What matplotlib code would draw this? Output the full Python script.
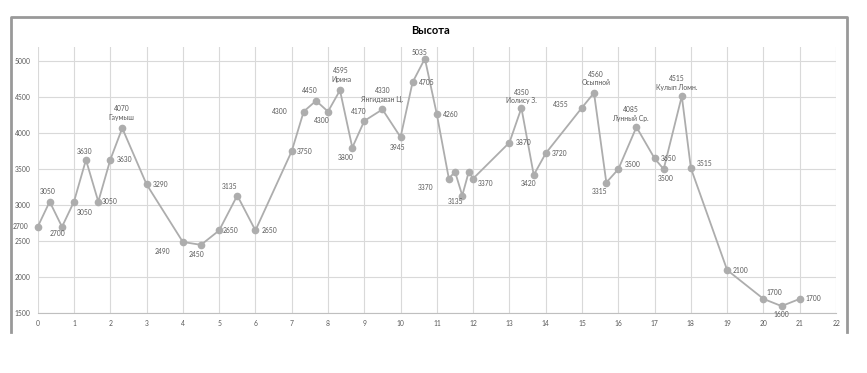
import matplotlib.pyplot as plt
from matplotlib.lines import Line2D

# Data
distance = [0, 0.33, 0.67, 1, 1.33, 1.67, 2, 2.33, 3, 4, 4.5, 5, 5.5, 6, 7,
            7.33, 7.67, 8, 8.33, 8.67, 9, 9.5, 10, 10.33, 10.67, 11, 11.33,
            11.5, 11.7, 11.88, 12, 13, 13.33, 13.67, 14, 15, 15.33, 15.67, 16,
            16.5, 17, 17.25, 17.75, 18, 19, 20, 20.5, 21]
height = [2700, 3050, 2700, 3050, 3630, 3050, 3630, 4070, 3290, 2490, 2450,
          2650, 3135, 2650, 3750, 4300, 4450, 4300, 4595, 3800, 4170, 4330,
          3945, 4705, 5035, 4260, 3370, 3465, 3135, 3465, 3370, 3870, 4350,
          3420, 3720, 4355, 4560, 3315, 3500, 4085, 3650, 3500, 4515, 3515,
          2100, 1700, 1600, 1700]
names = {7: 'Гаумыш', 18: 'Ирина', 21: 'Янгидаван Ц.', 32: 'Иолису З.',
         36: 'Осыпной', 39: 'Лунный Ср.', 42: 'Кулып Ломн.'}
unlabeled = {27, 29}

# label offsets in pixels (dx, dy) relative to the point
label_offsets = [(-17, 0), (-1.5, 10), (-5, -7), (11, -11), (-1, 8.5), (11, 0),
                 (14, 0), (-0.5, 15), (14, 0), (-20, -10), (-4, -10), (11, 0),
                 (-8, 9), (14, 0), (13, 0), (-24, 0), (-6, 10), (-6, -9),
                 (1, 15.5), (-7, -9.5), (-6, 9), (0, 14.5), (-3, -10), (14, 0),
                 (-5, 6), (14, 0), (-23, -9), (0, 0), (-6.5, -6), (0, 0),
                 (12, -5), (14, 0), (0, 11.5), (-5.5, -9), (14, 0), (-21, 3),
                 (2, 14.5), (-6.5, -9), (14, 5), (-6, 13.2), (14, 0), (2, -9),
                 (-5, 13.3), (14, 5), (13, 0), (11, 6), (0, -8), (13.5, 0)]

plt.rcParams['font.family'] = ['Lato', 'DejaVu Sans']

fig = plt.figure(figsize=(8.67, 3.73), dpi=100)
ax = fig.add_axes([0.04348, 0.16005, 0.9208, 0.7147])

line_color = '#ADADAD'
text_color = '#595959'

ax.plot(distance, height, color=line_color, linewidth=1.3, marker='o',
        markersize=4.5, markerfacecolor=line_color, markeredgecolor=line_color,
        clip_on=False, zorder=3)

for i, (x, y) in enumerate(zip(distance, height)):
    if i in unlabeled:
        continue
    label = str(y)
    if i in names:
        label = f'{y}\n{names[i]}'
    dx, dy = label_offsets[i]
    ax.annotate(label, (x, y), xytext=(dx, dy), textcoords='offset pixels',
                ha='center', va='center', fontsize=4.9, color=text_color,
                linespacing=1.25, zorder=4)

ax.set_xlim(0, 22)
ax.set_ylim(1500, 5200)
ax.set_xticks(range(0, 23))
ax.set_yticks(range(1500, 5001, 500))
ax.grid(True, color='#D9D9D9', linewidth=0.8)
ax.set_axisbelow(True)
ax.tick_params(length=0, labelsize=4.9, labelcolor=text_color, pad=5)
for side in ['top', 'right', 'left']:
    ax.spines[side].set_visible(False)
ax.spines['bottom'].set_color('#BFBFBF')
ax.spines['bottom'].set_linewidth(0.8)

fig.text(430 / 867, 1 - 31 / 373, 'Высота', ha='center', va='center',
         fontsize=8, fontweight='bold', color='black')

# chart frame (bottom edge is cut off in the reference)
W, H = 867, 373
fx = [11.3 / W, 11.3 / W, 847 / W, 847 / W]
fy = [1 - 332 / H, 1 - 17 / H, 1 - 17 / H, 1 - 332 / H]
fig.add_artist(Line2D(fx, fy, color='#999999', linewidth=2,
                      transform=fig.transFigure))

plt.savefig('out.png', dpi=100)
